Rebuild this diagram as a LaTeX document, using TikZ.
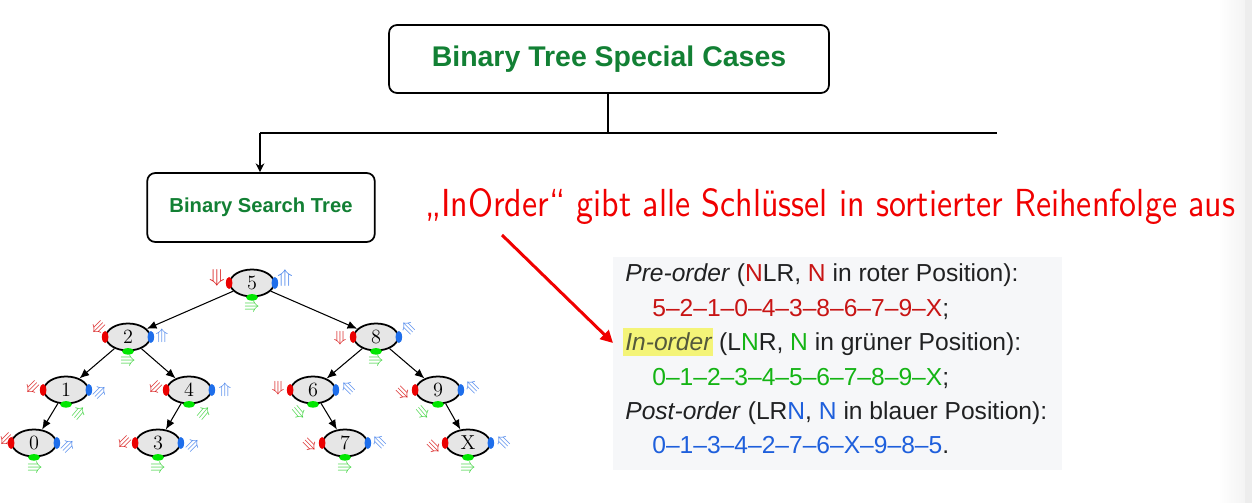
\documentclass[tikz,border=0pt]{standalone}
\usepackage{amssymb}
\usepackage{fontspec}
\newfontfamily\arial{Liberation Sans}
\usetikzlibrary{shapes.geometric,arrows.meta}
\definecolor{gfg}{RGB}{18,128,52}
\definecolor{ngray}{RGB}{230,230,230}
\definecolor{dotred}{RGB}{235,0,0}
\definecolor{dotblue}{RGB}{30,110,235}
\definecolor{dotgreen}{RGB}{0,230,0}
\definecolor{gred}{RGB}{215,20,20}
\definecolor{gblue}{RGB}{70,130,235}
\definecolor{ggreen}{RGB}{60,210,60}
\definecolor{tred}{RGB}{200,20,20}
\definecolor{tgreen}{RGB}{20,180,20}
\definecolor{tblue}{RGB}{30,95,220}
\definecolor{tblack}{RGB}{32,33,34}
\definecolor{tgrey}{RGB}{84,89,60}
\definecolor{boxbg}{RGB}{246,247,249}
\definecolor{hilite}{RGB}{244,244,120}
\definecolor{annot}{RGB}{240,0,0}
\tikzset{
  tn/.style={ellipse, draw=black, line width=1pt, fill=ngray, minimum width=0.88cm,
    minimum height=0.54cm, inner sep=0pt, font=\fontsize{11.5}{12}\selectfont},
  glyph/.style={inner sep=0pt, font=\fontsize{9}{9}\selectfont},
  bigglyph/.style={inner sep=0pt, font=\fontsize{11}{11}\selectfont},
  treeedge/.style={line width=0.6pt, -{Latex[length=5.5pt,width=4.6pt]}},
  hbox/.style={draw=black, line width=1pt, rounded corners=0.16cm, fill=white, inner sep=0pt},
  conn/.style={line width=0.8pt},
  txt/.style={anchor=base west, inner sep=0pt, text=tblack, font=\arial\fontsize{14}{16}\selectfont}
}
\begin{document}
\begin{tikzpicture}[x=0.02cm,y=-0.02cm]
\useasboundingbox (0,0) rectangle (1252,503);
% right screen edge
\shade[left color=white, right color=gray!9] (1218,0) rectangle (1245,503);
\fill[gray!14] (1245,0) rectangle (1252,503);

% header boxes
\node[hbox, minimum width=8.8cm, minimum height=1.36cm] (top) at (609,59)
  {\arial\bfseries\fontsize{16.2}{18}\selectfont\color{gfg}Binary Tree Special Cases};
\node[hbox, minimum width=4.55cm, minimum height=1.38cm] (bst) at (261,207.5)
  {\arial\bfseries\fontsize{11.5}{13}\selectfont\color{gfg}\raisebox{-1.5pt}{Binary Search Tree}};
\coordinate (j) at (608,133);
\coordinate (jl) at (260,133);
\coordinate (jr) at (997,133);
\draw[conn] (top.south -| j) -- (j);
\draw[conn] (jl) -- (jr);
\draw[conn, -{Stealth[length=5pt,width=5pt]}] (jl) -- (bst.north -| jl);

% annotation
\node[anchor=base west, inner sep=0pt, text=annot] (ann) at (425,217)
  {\resizebox{16.2cm}{0.56cm}{\sffamily „InOrder“ gibt alle Schlüssel in sortierter Reihenfolge aus}};
\coordinate (as) at (502,235);
\coordinate (ae) at (613,343);
\draw[annot, line width=1.7pt, -{Triangle[length=7pt,width=7pt]}] (as) -- (ae);

% traversal box
\node[fill=boxbg, minimum width=8.98cm, minimum height=4.26cm, anchor=north west, inner sep=0pt] (tbox) at (613,257) {};
\fill[hilite] (623,328) rectangle (713,356);
\node[txt] (l1) at (625,282) {\textit{Pre-order} (\textcolor{tred}{N}LR, \textcolor{tred}{N} in roter Position):};
\node[txt] (l2) at (652,316.4) {\textcolor{tred}{5–2–1–0–4–3–8–6–7–9–X};};
\node[txt] (l3) at (625,350.8) {\textcolor{tgrey}{\textit{In-order}} (L\textcolor{tgreen}{N}R, \textcolor{tgreen}{N} in grüner Position):};
\node[txt] (l4) at (652,385.2) {\textcolor{tgreen}{0–1–2–3–4–5–6–7–8–9–X};};
\node[txt] (l5) at (625,419.6) {\textit{Post-order} (LR\textcolor{tblue}{N}, \textcolor{tblue}{N} in blauer Position):};
\node[txt] (l6) at (652,454) {\textcolor{tblue}{0–1–3–4–2–7–6–X–9–8–5}.};

% tree nodes
\foreach \n/\x/\y/\l in {5/252/283/5, 2/128/337/2, 8/376/337/8, 1/66/390/1, 4/189/390/4,
  6/313/390/6, 9/438/390/9, 0/34/443/0, 3/158/443/3, 7/345/443/7, X/468/443/X}{
  \node[tn] (t\n) at (\x,\y) {\l};
  \fill[dotred] (t\n.west) ellipse [x radius=0.065cm, y radius=0.12cm];
  \fill[dotblue] (t\n.east) ellipse [x radius=0.065cm, y radius=0.12cm];
  \fill[dotgreen] (t\n.south) ellipse [x radius=0.12cm, y radius=0.065cm];
}
% traversal glyphs
\node[bigglyph, text=gred, rotate=-90] (g5r) at (217,278) {$\Rrightarrow$};
\node[bigglyph, text=gblue, rotate=90] (g5b) at (285,278) {$\Rrightarrow$};
\node[glyph, text=ggreen] (g5g) at (252,307) {$\Rrightarrow$};
\foreach \n/\rx/\ry/\ra/\bx/\by/\ba/\gx/\gy/\ga in {
  2/98/328/-135/162/336/90/128/361/0,
  8/340/338/-90/408/328/135/376/361/0,
  1/32/388/-135/100/392/45/79/413/50,
  4/155/388/-135/225/390/90/204/413/50,
  6/278/388/-90/348/388/135/299/413/-50,
  9/403/393/-45/472/387/135/423/413/-50,
  0/6/440/-135/68/446/45/35/468/0,
  3/124/443/-135/193/445/45/158/468/0,
  7/310/445/-45/379/442/135/345/468/0,
  X/434/447/-45/503/442/135/468/468/0}{
  \node[glyph, text=gred, rotate=\ra] (g\n r) at (\rx,\ry) {$\Rrightarrow$};
  \node[glyph, text=gblue, rotate=\ba] (g\n b) at (\bx,\by) {$\Rrightarrow$};
  \node[glyph, text=ggreen, rotate=\ga] (g\n g) at (\gx,\gy) {$\Rrightarrow$};
}
% tree edges
\draw[treeedge] (t5) -- (t2);
\draw[treeedge] (t5) -- (t8);
\draw[treeedge] (t2) -- (t1);
\draw[treeedge] (t2) -- (t4);
\draw[treeedge] (t1) -- (t0);
\draw[treeedge] (t4) -- (t3);
\draw[treeedge] (t8) -- (t6);
\draw[treeedge] (t8) -- (t9);
\draw[treeedge] (t6) -- (t7);
\draw[treeedge] (t9) -- (tX);
\end{tikzpicture}
\end{document}
